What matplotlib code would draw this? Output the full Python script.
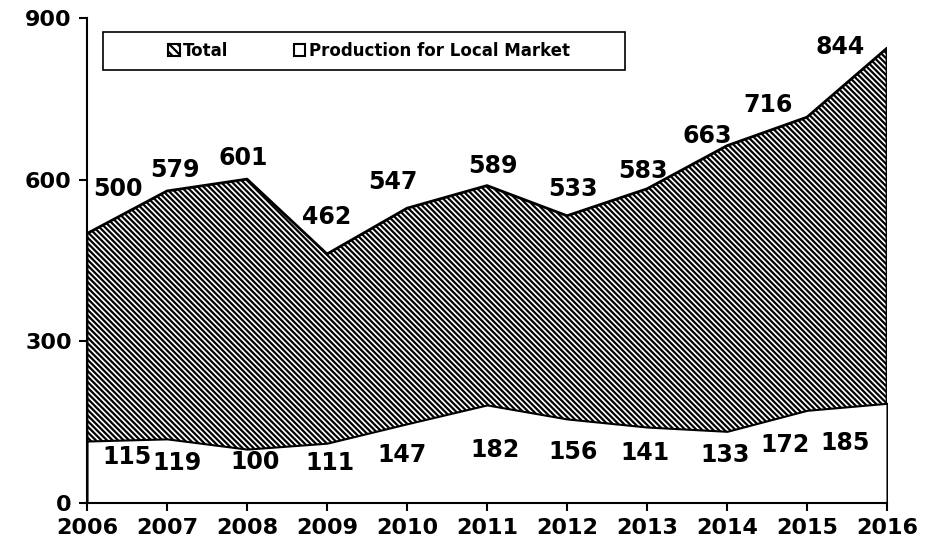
import matplotlib
matplotlib.use("Agg")
import matplotlib.pyplot as plt
from matplotlib.patches import Patch, Rectangle

years = [2006, 2007, 2008, 2009, 2010, 2011, 2012, 2013, 2014, 2015, 2016]
total = [500, 579, 601, 462, 547, 589, 533, 583, 663, 716, 844]
local = [115, 119, 100, 111, 147, 182, 156, 141, 133, 172, 185]

# label offsets in pixels (dx, dy), roughly as placed in the original
total_off = [(31, 45), (8, 21), (-4, 21), (0, 37), (-14, 26), (6, 20),
             (6, 27), (-4, 18), (-20, 10), (-39, 12), (-47, 1)]
local_off = [(40, -16), (10, -24), (8, -13), (3, -20), (-5, -31), (8, -45),
             (6, -33), (-2, -26), (-2, -24), (-22, -35), (-42, -40)]

plt.rcParams['font.family'] = 'DejaVu Sans'
plt.rcParams['font.weight'] = 'bold'
plt.rcParams['hatch.linewidth'] = 1.6

fig = plt.figure(figsize=(9.4, 5.49), dpi=100)
ax = fig.add_axes([87 / 940, 1 - 503 / 549, 800 / 940, 485 / 549])

ax.fill_between(years, 0, total, facecolor='white', edgecolor='black',
                hatch='\\' * 6, linewidth=2, zorder=1)
ax.fill_between(years, 0, local, facecolor='white', edgecolor='black',
                linewidth=1.5, zorder=2)

for x, v, (dx, dy) in zip(years, total, total_off):
    ax.annotate(str(v), (x, v), xytext=(dx * 0.72, dy * 0.72), textcoords='offset points',
                ha='center', va='center', fontsize=17, fontweight='bold', zorder=5)
for x, v, (dx, dy) in zip(years, local, local_off):
    ax.annotate(str(v), (x, v), xytext=(dx * 0.72, dy * 0.72), textcoords='offset points',
                ha='center', va='center', fontsize=17, fontweight='bold', zorder=5)

ax.set_xlim(2006, 2016)
ax.set_ylim(0, 900)
ax.set_xticks(years)
ax.set_yticks([0, 300, 600, 900])
ax.tick_params(axis='both', direction='out', length=6, width=1.5, labelsize=16, pad=5)
for lab in ax.get_xticklabels() + ax.get_yticklabels():
    lab.set_fontweight('bold')
ax.spines['top'].set_visible(False)
ax.spines['right'].set_visible(False)
ax.spines['left'].set_linewidth(1.5)
ax.spines['bottom'].set_linewidth(1.5)

# legend box
box = Rectangle(((103 - 87) / 800, 1 - (70 - 18) / 485), 522 / 800, 38 / 485,
                transform=ax.transAxes, facecolor='white', edgecolor='black',
                linewidth=1.2, zorder=6)
ax.add_patch(box)
handles = [Patch(facecolor='white', edgecolor='black', hatch='\\' * 4, linewidth=1.5),
           Patch(facecolor='white', edgecolor='black', linewidth=1.5)]
leg = ax.legend(handles, ['Total', 'Production for Local Market'], ncol=2,
                loc='center', bbox_to_anchor=((369 - 87) / 800, 1 - (51 - 18) / 485),
                frameon=False, prop={'size': 12, 'weight': 'bold'},
                handlelength=0.7, handleheight=0.7, handletextpad=0.2,
                columnspacing=3.9)
leg.set_zorder(7)

fig.savefig('out.png', dpi=100)
